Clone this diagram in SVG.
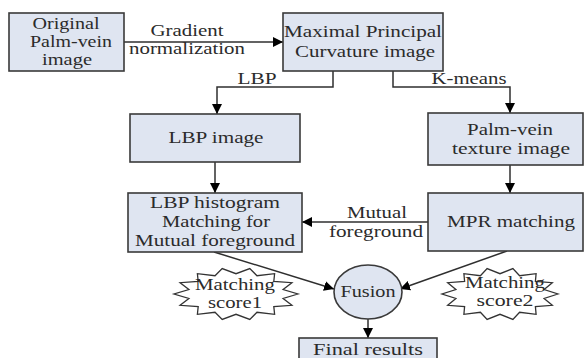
<svg xmlns="http://www.w3.org/2000/svg" width="588" height="358" viewBox="0 0 588 358" font-family="Liberation Serif, Times New Roman, DejaVu Serif, Noto Serif, serif">
<style>
.box{fill:#dfe5f1;stroke:#3a3a3a;stroke-width:1.6}
.t{font-size:17px;fill:#2b2b2b;text-anchor:middle}
.c{fill:none;stroke:#2f2f2f;stroke-width:1.5}
.star{fill:#fff;stroke:#333;stroke-width:1.3;stroke-linejoin:miter}
</style>
<defs>
<marker id="ah" viewBox="0 0 10 10" refX="10" refY="5" markerWidth="10" markerHeight="10" markerUnits="userSpaceOnUse" orient="auto">
<path d="M0,0 L10,5 L0,10 Z" fill="#000"/>
</marker>
</defs>
<rect width="588" height="358" fill="#fff"/>

<g id="connectors">
<line class="c" x1="124" y1="42" x2="283" y2="42" marker-end="url(#ah)"/>
<polyline class="c" points="333,71 333,87 217,87 217,114" marker-end="url(#ah)"/>
<polyline class="c" points="393,71 393,87 510,87 510,113" marker-end="url(#ah)"/>
<line class="c" x1="215" y1="162" x2="215" y2="193" marker-end="url(#ah)"/>
<line class="c" x1="510" y1="165" x2="510" y2="193" marker-end="url(#ah)"/>
<line class="c" x1="428" y1="222" x2="302" y2="222" marker-end="url(#ah)"/>
<line class="c" x1="214" y1="252" x2="334" y2="289" marker-end="url(#ah)"/>
<line class="c" x1="507" y1="251" x2="400" y2="289" marker-end="url(#ah)"/>
<line class="c" x1="368" y1="319" x2="368" y2="338" marker-end="url(#ah)"/>
<text class="t" x="187" y="36" textLength="73" lengthAdjust="spacingAndGlyphs">Gradient</text>
<text class="t" x="187" y="54" textLength="116" lengthAdjust="spacingAndGlyphs">normalization</text>
<text class="t" x="257" y="84" textLength="39" lengthAdjust="spacingAndGlyphs">LBP</text>
<text class="t" x="469" y="84" textLength="75" lengthAdjust="spacingAndGlyphs">K-means</text>
<text class="t" x="377" y="218" textLength="60" lengthAdjust="spacingAndGlyphs">Mutual</text>
<text class="t" x="376" y="237" textLength="94" lengthAdjust="spacingAndGlyphs">foreground</text>
</g>

<g id="original">
<rect class="box" x="9" y="13" width="115" height="58"/>
<text class="t" x="66" y="29" textLength="67" lengthAdjust="spacingAndGlyphs">Original</text>
<text class="t" x="71" y="47" textLength="82" lengthAdjust="spacingAndGlyphs">Palm-vein</text>
<text class="t" x="67" y="65" textLength="50" lengthAdjust="spacingAndGlyphs">image</text>
</g>

<g id="mpc">
<rect class="box" x="283" y="13" width="160" height="58"/>
<text class="t" x="363" y="37" textLength="158" lengthAdjust="spacingAndGlyphs">Maximal Principal</text>
<text class="t" x="365" y="57" textLength="140" lengthAdjust="spacingAndGlyphs">Curvature image</text>
</g>

<g id="lbpimage">
<rect class="box" x="130" y="114" width="170" height="48"/>
<text class="t" x="216" y="143" textLength="95" lengthAdjust="spacingAndGlyphs">LBP image</text>
</g>

<g id="texture">
<rect class="box" x="428" y="113" width="155" height="52"/>
<text class="t" x="510" y="135" textLength="86" lengthAdjust="spacingAndGlyphs">Palm-vein</text>
<text class="t" x="511" y="154" textLength="118" lengthAdjust="spacingAndGlyphs">texture image</text>
</g>

<g id="lbphist">
<rect class="box" x="128" y="193" width="174" height="59"/>
<text class="t" x="215" y="208" textLength="130" lengthAdjust="spacingAndGlyphs">LBP histogram</text>
<text class="t" x="216" y="227" textLength="108" lengthAdjust="spacingAndGlyphs">Matching for</text>
<text class="t" x="215" y="246" textLength="160" lengthAdjust="spacingAndGlyphs">Mutual foreground</text>
</g>

<g id="mpr">
<rect class="box" x="428" y="193" width="155" height="58"/>
<text class="t" x="511" y="227" textLength="128" lengthAdjust="spacingAndGlyphs">MPR matching</text>
</g>

<g id="score1">
<polygon class="star" points="298,294 283.1,298.5 291.9,305.3 273.8,306.6 274.6,314.3 257,312.3 249.8,319.4 236,314.3 222.2,319.4 215,312.3 197.4,314.3 198.2,306.6 180.1,305.3 188.9,298.5 174,294 188.9,289.5 180.1,282.7 198.2,281.4 197.4,273.7 215,275.7 222.2,268.6 236,273.7 249.8,268.6 257,275.7 274.6,273.7 273.8,281.4 291.9,282.7 283.1,289.5"/>
<text class="t" x="235" y="290" textLength="80" lengthAdjust="spacingAndGlyphs">Matching</text>
<text class="t" x="235" y="308" textLength="54" lengthAdjust="spacingAndGlyphs">score1</text>
</g>

<g id="score2">
<polygon class="star" points="558,294 544.1,298.5 552.3,305.3 535.4,306.6 536.1,314.3 519.6,312.3 512.9,319.4 500,314.3 487.1,319.4 480.4,312.3 463.9,314.3 464.6,306.6 447.7,305.3 455.9,298.5 442,294 455.9,289.5 447.7,282.7 464.6,281.4 463.9,273.7 480.4,275.7 487.1,268.6 500,273.7 512.9,268.6 519.6,275.7 536.1,273.7 535.4,281.4 552.3,282.7 544.1,289.5"/>
<text class="t" x="505" y="288" textLength="80" lengthAdjust="spacingAndGlyphs">Matching</text>
<text class="t" x="505" y="306" textLength="57" lengthAdjust="spacingAndGlyphs">score2</text>
</g>

<g id="fusion">
<ellipse class="box" cx="368" cy="292" rx="34" ry="27"/>
<text class="t" x="368" y="297" textLength="55" lengthAdjust="spacingAndGlyphs">Fusion</text>
</g>

<g id="final">
<rect class="box" x="299" y="338" width="138" height="30"/>
<text class="t" x="368" y="355" textLength="110" lengthAdjust="spacingAndGlyphs">Final results</text>
</g>
</svg>
